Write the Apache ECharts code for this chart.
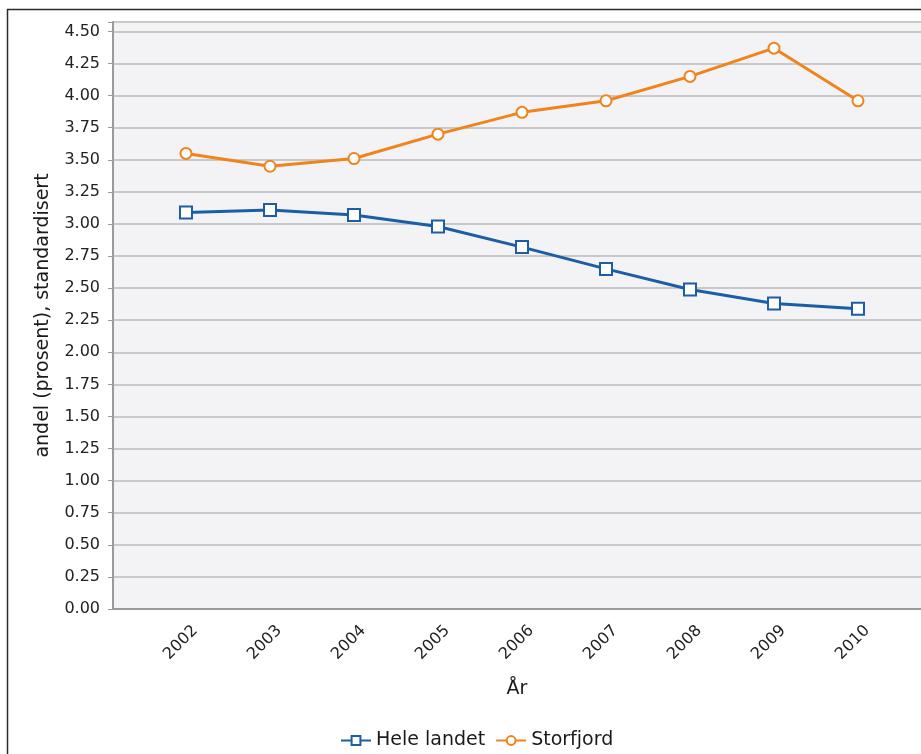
<!DOCTYPE html>
<html>
<head>
<meta charset="utf-8">
<title>Andel standardisert</title>
<script src="https://cdn.jsdelivr.net/npm/echarts@6/dist/echarts.min.js"></script>
<style>
  html, body { margin: 0; padding: 0; background: #fff; }
  #chart { width: 921px; height: 754px; }
</style>
</head>
<body>
<div id="chart"></div>
<script>
const years = [2002, 2003, 2004, 2005, 2006, 2007, 2008, 2009, 2010];
const heleLandet = [3.09, 3.11, 3.07, 2.98, 2.82, 2.65, 2.49, 2.38, 2.34];
const storfjord = [3.55, 3.45, 3.51, 3.70, 3.87, 3.96, 4.15, 4.37, 3.96];
const seriesNames = ['Hele landet', 'Storfjord'];
const yTickStep = 0.25;
const yTickTop = 4.5;

const font = 'DejaVu Sans';
const blue = '#1c5ea5';
const orange = '#f0841c';

const chart = echarts.init(document.getElementById('chart'));

const toPairs = (vals) => years.map((y, i) => [y, vals[i]]);

const option = {
  backgroundColor: '#fff',
  animation: false,
  graphic: [
    {
      // outer frame, only top/left edges are in view
      type: 'rect',
      shape: { x: 7.5, y: 9.5, width: 1000, height: 1000 },
      style: { fill: 'none', stroke: '#2b2b2b', lineWidth: 1.5 },
      silent: true
    }
  ],
  grid: {
    left: 113,
    right: 0,
    top: 22,
    bottom: 145,
    show: true,
    backgroundColor: '#f3f3f6',
    borderWidth: 0
  },
  legend: {
    left: 335,
    top: 726,
    itemWidth: 30,
    itemHeight: 11,
    itemGap: 10,
    textStyle: { fontFamily: font, fontSize: 19, color: '#1a1a1a' },
    data: seriesNames
  },
  xAxis: {
    type: 'value',
    min: 2001.131,
    max: 2010.75,
    name: 'År',
    nameLocation: 'middle',
    nameGap: 71,
    nameTextStyle: { fontFamily: font, fontSize: 19, color: '#1a1a1a' },
    axisLine: { show: true, onZero: false, lineStyle: { color: '#9a9a9a', width: 2 } },
    axisTick: { show: false },
    splitLine: { show: false },
    axisLabel: {
      customValues: years,
      rotate: 45,
      margin: 10,
      verticalAlign: 'top',
      lineHeight: 26,
      fontFamily: font,
      fontSize: 16,
      color: '#222',
      formatter: (v) => String(v)
    }
  },
  yAxis: {
    type: 'value',
    min: 0,
    max: 4.574,
    interval: yTickStep,
    name: 'andel (prosent), standardisert',
    nameLocation: 'middle',
    nameGap: 60,
    nameTextStyle: { fontFamily: font, fontSize: 19, color: '#1a1a1a' },
    axisLine: { show: true, lineStyle: { color: '#9a9a9a', width: 2 } },
    axisTick: { show: true, length: 5, lineStyle: { color: '#9a9a9a', width: 1 } },
    splitLine: { show: true, lineStyle: { color: '#c9c9c9', width: 2 } },
    axisLabel: {
      margin: 13,
      fontFamily: font,
      fontSize: 16,
      color: '#222',
      formatter: (v) => (v > yTickTop + 1e-6 ? '' : v.toFixed(2))
    }
  },
  series: [
    {
      name: seriesNames[0],
      type: 'line',
      data: toPairs(heleLandet),
      symbol: 'rect',
      symbolSize: 12,
      itemStyle: { color: '#fff', borderColor: blue, borderWidth: 2 },
      lineStyle: { color: blue, width: 3 },
      z: 3
    },
    {
      name: seriesNames[1],
      type: 'line',
      data: toPairs(storfjord),
      symbol: 'circle',
      symbolSize: 11,
      itemStyle: { color: '#fff', borderColor: orange, borderWidth: 2 },
      lineStyle: { color: orange, width: 3 },
      z: 3
    }
  ]
};

chart.setOption(option);
</script>
</body>
</html>
